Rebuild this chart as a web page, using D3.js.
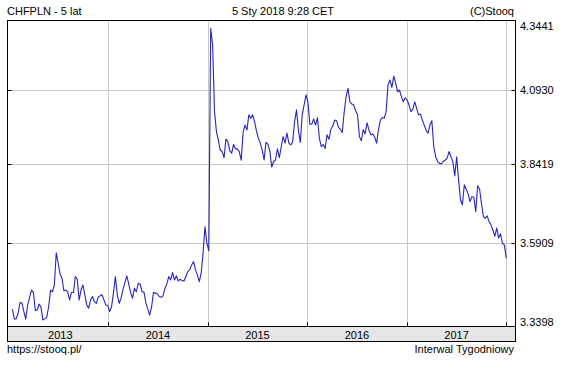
<!DOCTYPE html>
<meta charset="utf-8">
<style>
  body { margin: 0; background: #fff; }
  text { font-family: "Liberation Sans", Arial, sans-serif; font-size: 11px; fill: #000; }
</style>
<svg width="584" height="375"></svg>
<script src="https://d3js.org/d3.v7.min.js"></script>
<script>

// weekly closes, CHF/PLN (Mondays, last one 1 Jan 2018)
var closesPart1 = [
  3.394, 3.366, 3.366, 3.383, 3.413, 3.412, 3.387, 3.365, 3.406, 3.428,
  3.450, 3.443, 3.390, 3.392, 3.409, 3.400, 3.363, 3.366, 3.370, 3.401,
  3.450, 3.445, 3.465, 3.562, 3.530, 3.498, 3.485, 3.448, 3.450, 3.445,
  3.421, 3.443, 3.443, 3.490, 3.482, 3.421, 3.450, 3.465, 3.436, 3.406,
  3.397, 3.421, 3.431, 3.416, 3.411, 3.429, 3.433, 3.436, 3.421, 3.406,
  3.405, 3.387, 3.401, 3.441, 3.490, 3.436, 3.411, 3.426, 3.452, 3.472,
  3.492, 3.468, 3.443, 3.426, 3.455, 3.445, 3.470, 3.467, 3.445, 3.444,
  3.413, 3.394, 3.377, 3.401, 3.443, 3.441, 3.439, 3.431, 3.429, 3.433,
  3.455, 3.468, 3.490, 3.480, 3.502, 3.480, 3.492, 3.477, 3.482, 3.478,
  3.477, 3.490, 3.505, 3.510, 3.525, 3.535, 3.510, 3.495, 3.475, 3.500,
  3.561, 3.642, 3.591, 3.568
];
var closesPart2 = [
  4.316, 4.255, 4.019, 3.951, 3.923, 3.889, 3.884, 3.864, 3.926, 3.917,
  3.886, 3.879, 3.908, 3.893, 3.893, 3.884, 3.855, 3.949, 3.973, 3.956,
  4.008, 3.996, 4.008, 3.985, 3.953, 3.928, 3.912, 3.889, 3.856, 3.915,
  3.908, 3.886, 3.833, 3.851, 3.856, 3.893, 3.864, 3.900, 3.934, 3.912,
  3.946, 3.912, 3.906, 3.917, 3.985, 4.025, 3.956, 3.914, 4.008, 4.042,
  4.077, 4.051, 3.976, 3.976, 3.994, 3.973
];
var closesPart3 = [
  3.998, 3.928, 3.900, 3.908, 3.894, 3.940, 3.925, 3.958, 3.970, 3.990,
  3.988, 3.965, 3.958, 3.948, 4.017, 4.071, 4.100, 4.053, 4.045, 4.042,
  4.022, 4.008, 3.934, 3.920, 3.958, 3.943, 3.981, 3.956, 3.940, 3.943,
  3.932, 3.912, 3.958, 3.990, 3.999, 3.996, 4.019, 4.112, 4.129, 4.103,
  4.143, 4.118, 4.088, 4.094, 4.071, 4.053, 4.067, 4.059, 4.042, 4.019,
  4.027, 4.053, 4.030, 4.008, 4.011, 3.990, 3.973, 3.954, 3.946, 3.973,
  3.988, 3.900, 3.867, 3.851, 3.845, 3.843, 3.851, 3.856, 3.862, 3.884,
  3.867, 3.851, 3.804, 3.867, 3.791, 3.727, 3.711, 3.775, 3.761, 3.746,
  3.721, 3.737, 3.735, 3.689, 3.772, 3.761, 3.716, 3.674, 3.669, 3.676,
  3.658, 3.648, 3.632, 3.612, 3.638, 3.607, 3.620, 3.591, 3.586, 3.545
];

var years = [2013, 2014, 2015, 2016, 2017];
var yTicks = [3.3398, 3.5909, 3.8419, 4.0930, 4.3441];
var yTickLabels = ["3.3398", "3.5909", "3.8419", "4.0930", "4.3441"];
var lastWeek = new Date(2018, 0, 1);

var svg = d3.select("svg"),
    plotLeft = 7.5, plotRight = 515.5, plotTop = 20.5, plotBottom = 326.5, bandBottom = 341.5;

var closes = closesPart1.concat(closesPart2, closesPart3);
var data = closes.map(function(v, i) {
  return { date: d3.timeDay.offset(lastWeek, -7 * (closes.length - 1 - i)), close: v };
});

var x = d3.scaleTime()
    .domain([new Date(2012, 11, 27), new Date(2018, 1, 4)])
    .range([plotLeft, plotRight]);

var y = d3.scaleLog()
    .domain([3.3398, 4.3441])
    .range([328, 20.7]);

// header
svg.append("text").attr("x", 7).attr("y", 15).text("CHFPLN - 5 lat");
svg.append("text").attr("x", 283).attr("y", 15).attr("text-anchor", "middle").text("5 Sty 2018 9:28 CET");
svg.append("text").attr("x", 514).attr("y", 15).attr("text-anchor", "end").text("(C)Stooq");

// grid
var yearLines = years.slice(1).concat([2018]).map(function(yr) { return x(new Date(yr, 0, 1)); });

svg.append("g").selectAll("line")
  .data(yearLines)
  .enter().append("line")
    .attr("x1", function(d) { return Math.round(d) + 0.5; })
    .attr("x2", function(d) { return Math.round(d) + 0.5; })
    .attr("y1", plotTop).attr("y2", plotBottom)
    .attr("stroke", "#c8c8c8");

var inner = yTicks.slice(1, 4);
svg.append("g").selectAll("line")
  .data(inner)
  .enter().append("line")
    .attr("x1", plotLeft).attr("x2", plotRight)
    .attr("y1", function(d) { return Math.round(y(d)) + 0.5; })
    .attr("y2", function(d) { return Math.round(y(d)) + 0.5; })
    .attr("stroke", "#c8c8c8");

// small dark ticks on the frame
var tickG = svg.append("g").attr("stroke", "#000");
inner.forEach(function(d) {
  var yy = Math.round(y(d)) + 0.5;
  tickG.append("line").attr("x1", plotLeft).attr("x2", plotLeft + 4).attr("y1", yy).attr("y2", yy);
  tickG.append("line").attr("x1", plotRight - 4).attr("x2", plotRight).attr("y1", yy).attr("y2", yy);
});
yearLines.forEach(function(d) {
  var xx = Math.round(d) + 0.5;
  tickG.append("line").attr("x1", xx).attr("x2", xx).attr("y1", plotBottom - 4).attr("y2", plotBottom);
});

// price line
var line = d3.line()
    .x(function(d) { return x(d.date); })
    .y(function(d) { return y(d.close); });

svg.append("path")
    .datum(data)
    .attr("fill", "none")
    .attr("stroke", "#2424c8")
    .attr("stroke-width", 1.1)
    .attr("stroke-linejoin", "round")
    .attr("d", line);

// frame
svg.append("rect")
    .attr("x", plotLeft).attr("y", plotTop)
    .attr("width", plotRight - plotLeft).attr("height", plotBottom - plotTop)
    .attr("fill", "none").attr("stroke", "#000");

// year band
svg.append("rect")
    .attr("x", plotLeft).attr("y", plotBottom)
    .attr("width", plotRight - plotLeft).attr("height", bandBottom - plotBottom)
    .attr("fill", "#e6e6e6").attr("stroke", "#000");

var firstX = x(data[0].date);
svg.append("g").selectAll("text")
  .data(years)
  .enter().append("text")
    .attr("x", function(yr) {
      var a = Math.max(x(new Date(yr, 0, 1)), firstX),
          b = x(new Date(yr + 1, 0, 1));
      return (a + b) / 2;
    })
    .attr("y", bandBottom - 3)
    .attr("text-anchor", "middle")
    .text(function(d) { return d; });

// y labels
svg.append("g").selectAll("text")
  .data(yTicks)
  .enter().append("text")
    .attr("x", 520)
    .attr("y", function(d, i) {
      var yy = y(d);
      if (i === yTicks.length - 1) yy = plotTop + 5;
      if (i === 0) yy = plotBottom - 5;
      return yy + 4;
    })
    .text(function(d, i) { return yTickLabels[i]; });

// footer
svg.append("text").attr("x", 7).attr("y", 353).text("https://stooq.pl/");
svg.append("text").attr("x", 514).attr("y", 353).attr("text-anchor", "end").text("Interwal Tygodniowy");

</script>
